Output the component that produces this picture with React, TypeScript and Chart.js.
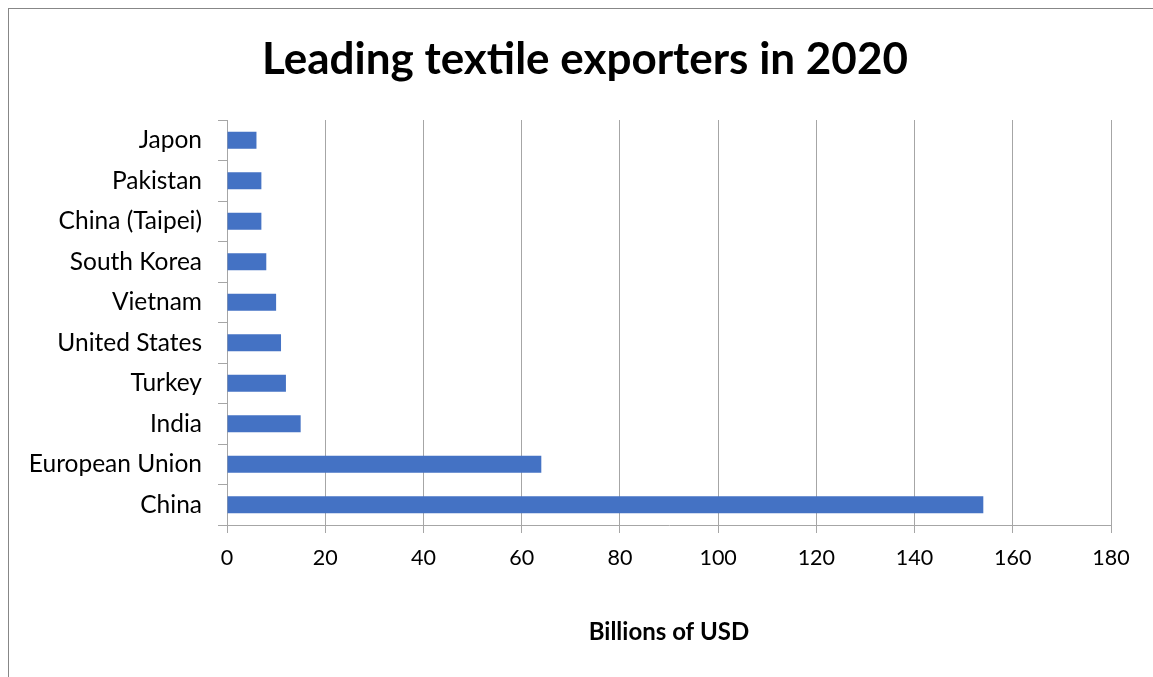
import React, { useEffect, useRef } from "react";
import { Chart, registerables } from "chart.js";

Chart.register(...registerables);

const categories = [
  "Japon",
  "Pakistan",
  "China (Taipei)",
  "South Korea",
  "Vietnam",
  "United States",
  "Turkey",
  "India",
  "European Union",
  "China",
];
const exportValues = [6, 7, 7, 8, 10, 11, 12, 15, 64, 154];
const chartTitle = "Leading textile exporters in 2020";
const xAxisTitle = "Billions of USD";

const FONT = "Lato, 'Open Sans', sans-serif";
const GRID = "#a6a6a6";

export default function App() {
  const ref = useRef<HTMLCanvasElement | null>(null);

  useEffect(() => {
    if (!ref.current) return;
    const chart = new Chart(ref.current, {
      type: "bar",
      data: {
        labels: categories,
        datasets: [
          {
            data: exportValues,
            backgroundColor: "#4472c4",
            borderWidth: 0,
            barPercentage: 0.42,
            categoryPercentage: 1,
            xAxisID: "x",
            yAxisID: "y",
          },
        ],
      },
      options: {
        indexAxis: "y",
        animation: false,
        responsive: false,
        maintainAspectRatio: false,
        layout: { padding: 0 },
        plugins: {
          legend: { display: false },
          tooltip: { enabled: false },
          title: {
            display: true,
            text: chartTitle,
            color: "#000",
            font: { family: FONT, size: 44, weight: "bold" },
            padding: { top: 24.5, bottom: 33.7 },
          },
        },
        scales: {
          y: {
            offset: true,
            afterFit: (s: any) => {
              s.width = 218;
            },
            grid: {
              display: true,
              drawOnChartArea: false,
              drawTicks: true,
              tickLength: 9,
              color: GRID,
              offset: true,
            },
            border: { display: true, color: GRID, width: 1 },
            ticks: {
              color: "#000",
              padding: 16,
              font: { family: FONT, size: 24.5 },
            },
          },
          yRightSpace: {
            type: "category",
            position: "right",
            labels: categories,
            display: true,
            afterFit: (s: any) => {
              s.width = 50;
            },
            grid: { display: false, drawTicks: false },
            border: { display: false },
            ticks: { display: false },
          },
          x: {
            min: 0,
            max: 180,
            afterFit: (s: any) => {
              s.height = 152;
            },
            ticks: {
              stepSize: 20,
              color: "#000",
              padding: 12,
              font: { family: FONT, size: 21.5 },
            },
            grid: {
              color: GRID,
              tickLength: 8,
              lineWidth: 1,
            },
            border: { display: true, color: GRID, width: 1 },
            title: {
              display: true,
              text: xAxisTitle,
              color: "#000",
              font: { family: FONT, size: 24, weight: "bold" },
              padding: { top: 10, bottom: 30 },
            },
          },
        },
      },
    });
    return () => chart.destroy();
  }, []);

  return (
    <div
      style={{
        position: "fixed",
        left: 0,
        top: 0,
        width: 1153,
        height: 677,
        overflow: "hidden",
        background: "#fff",
      }}
    >
      <div
        style={{
          position: "absolute",
          left: 8,
          top: 8,
          width: 1160,
          height: 700,
          borderLeft: "1px solid #878787",
          borderTop: "1px solid #878787",
        }}
      >
        <canvas
          ref={ref}
          width={1152}
          height={668}
          style={{ position: "absolute", left: 0, top: 0, width: 1152, height: 668 }}
        />
      </div>
    </div>
  );
}
